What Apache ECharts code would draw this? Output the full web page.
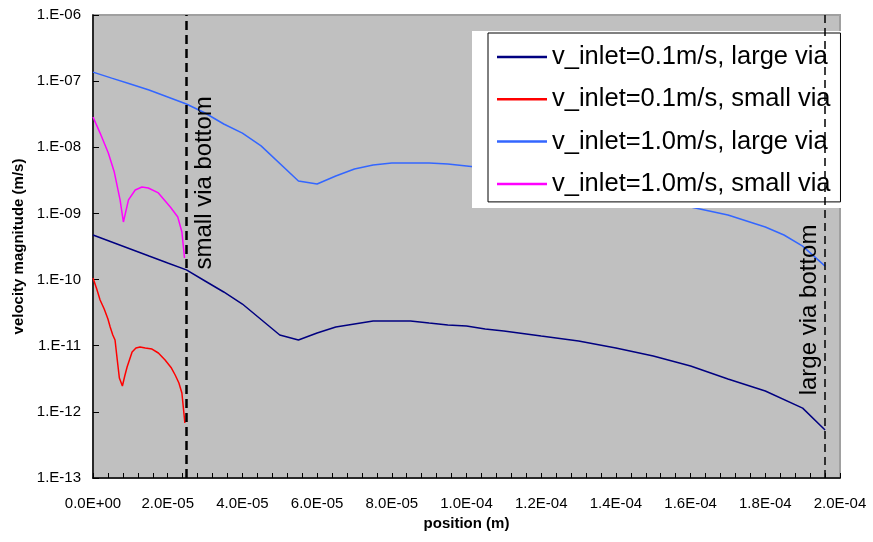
<!DOCTYPE html>
<html>
<head>
<meta charset="utf-8">
<title>Velocity magnitude along via</title>
<script src="https://cdn.jsdelivr.net/npm/echarts@6/dist/echarts.min.js"></script>
<style>
  html, body { margin: 0; padding: 0; background: #ffffff; }
  #chart { width: 873px; height: 542px; }
</style>
</head>
<body>
<div id="chart"></div>
<script>
// Positions are given in micrometres and converted to metres when plotted.
// v_inlet = 0.1 m/s, large via
const largeVia01Pos = [0, 5, 10, 15, 20, 25, 30, 35, 40, 50, 55, 60, 65, 70, 75, 80, 85, 90, 95, 100, 105, 110, 120, 130, 140, 150, 160, 170, 180, 190, 196];
const largeVia01Vel = [4.72e-10, 3.70e-10, 2.90e-10, 2.27e-10, 1.78e-10, 1.40e-10, 9.51e-11, 6.49e-11, 4.27e-11, 1.45e-11, 1.22e-11, 1.56e-11, 1.92e-11, 2.13e-11, 2.36e-11, 2.36e-11, 2.36e-11, 2.20e-11, 2.06e-11, 1.99e-11, 1.79e-11, 1.67e-11, 1.40e-11, 1.18e-11, 9.23e-12, 6.98e-12, 4.93e-12, 3.14e-12, 2.07e-12, 1.14e-12, 5.31e-13];

// v_inlet = 0.1 m/s, small via
const smallVia01Pos = [0, 1, 1.9, 3, 4, 4.6, 5.3, 5.9, 6.5, 7.06, 7.87, 8.5, 9.13, 10.47, 11.5, 12.6, 14, 15.8, 17.5, 19.3, 21, 22, 23, 23.8, 24.6];
const smallVia01Vel = [1.06e-10, 7.20e-11, 4.91e-11, 3.59e-11, 2.54e-11, 1.92e-11, 1.45e-11, 1.22e-11, 6.08e-12, 3.25e-12, 2.46e-12, 3.48e-12, 4.77e-12, 8.04e-12, 9.23e-12, 9.55e-12, 9.23e-12, 8.91e-12, 7.76e-12, 6.08e-12, 4.60e-12, 3.61e-12, 2.73e-12, 1.93e-12, 6.78e-13];

// v_inlet = 1.0 m/s, large via
const largeVia10Pos = [0, 5, 10, 15, 20, 25, 30, 35, 40, 45, 55, 60, 65, 70, 75, 80, 85, 90, 95, 100, 110, 120, 130, 140, 150, 160, 170, 180, 185, 190, 196];
const largeVia10Vel = [1.37e-7, 1.11e-7, 9.05e-8, 7.34e-8, 5.75e-8, 4.51e-8, 3.30e-8, 2.25e-8, 1.64e-8, 1.05e-8, 3.09e-9, 2.78e-9, 3.68e-9, 4.70e-9, 5.40e-9, 5.79e-9, 5.79e-9, 5.79e-9, 5.58e-9, 5.21e-9, 4.54e-9, 3.68e-9, 2.98e-9, 2.26e-9, 1.71e-9, 1.25e-9, 9.46e-10, 6.24e-10, 4.72e-10, 3.21e-10, 1.60e-10];

// v_inlet = 1.0 m/s, small via
const smallVia10Pos = [0, 1.9, 4.1, 5.7, 7.25, 8.14, 9.5, 11.3, 13.1, 14.8, 17.5, 20.7, 22.7, 23.8, 24.5];
const smallVia10Vel = [2.87e-8, 1.64e-8, 8.19e-9, 4.22e-9, 1.60e-9, 7.42e-10, 1.60e-9, 2.26e-9, 2.51e-9, 2.42e-9, 2.04e-9, 1.25e-9, 8.83e-10, 5.24e-10, 2.12e-10];

const seriesNames = [
  'v_inlet=0.1m/s, large via',
  'v_inlet=0.1m/s, small via',
  'v_inlet=1.0m/s, large via',
  'v_inlet=1.0m/s, small via'
];
const seriesColors = ['#000080', '#ff0000', '#3366ff', '#ff00ff'];

// Via bottom markers (position in metres)
const smallViaBottom = 25e-6;
const largeViaBottom = 196e-6;

const Y_MIN = 1e-13;
const Y_MAX = 1e-6;

const FONT = "'Liberation Sans', Arial, sans-serif";

function toPairs(posUm, vel) {
  return posUm.map((p, i) => [p * 1e-6, vel[i]]);
}

function expLabel(mantissa, n) {
  return mantissa + 'E' + (n < 0 ? '-' : '+') + String(Math.abs(n)).padStart(2, '0');
}

function fmtX(v) {
  const parts = Number(v).toExponential(1).split('e');
  return expLabel(parts[0], parseInt(parts[1], 10));
}

function fmtY(v) {
  return expLabel('1.', Math.round(Math.log10(v)));
}

const chart = echarts.init(document.getElementById('chart'), null, { renderer: 'canvas' });

const lineSeries = [
  [largeVia01Pos, largeVia01Vel],
  [smallVia01Pos, smallVia01Vel],
  [largeVia10Pos, largeVia10Vel],
  [smallVia10Pos, smallVia10Vel]
].map((pair, i) => ({
  name: seriesNames[i],
  type: 'line',
  data: toPairs(pair[0], pair[1]),
  symbol: 'none',
  showSymbol: false,
  z: 2,
  lineStyle: { color: seriesColors[i], width: 1.5 },
  itemStyle: { color: seriesColors[i] },
  emphasis: { disabled: true }
}));

// Via-bottom dashed lines and their labels ride on the first series
lineSeries[0].markLine = {
  silent: true,
  symbol: ['none', 'none'],
  label: { show: false },
  emphasis: { disabled: true },
  data: [
    [
      { coord: [smallViaBottom, Y_MIN], lineStyle: { color: '#000', width: 2.5, type: [9, 5] } },
      { coord: [smallViaBottom, Y_MAX] }
    ],
    [
      { coord: [largeViaBottom, Y_MIN], lineStyle: { color: '#000', width: 1.5, type: [8, 5] } },
      { coord: [largeViaBottom, Y_MAX] }
    ]
  ]
};
lineSeries[0].markPoint = {
  silent: true,
  symbol: 'circle',
  symbolSize: 1,
  itemStyle: { color: 'rgba(0,0,0,0)' },
  label: {
    show: true,
    position: 'inside',
    formatter: '{b}',
    rotate: 90,
    color: '#000',
    fontSize: 24,
    fontFamily: FONT
  },
  data: [
    { name: 'small via bottom', coord: [smallViaBottom, 2.9e-9], label: { offset: [0, 18] } },
    { name: 'large via bottom', coord: [largeViaBottom, 3.47e-11], label: { offset: [0, -16] } }
  ]
};

chart.setOption({
  animation: false,
  backgroundColor: '#ffffff',
  textStyle: { fontFamily: FONT },
  grid: {
    left: 93, right: 33, top: 15, bottom: 64,
    show: true,
    backgroundColor: '#c0c0c0',
    borderColor: '#a0a0a0',
    borderWidth: 2
  },
  legend: {
    data: seriesNames,
    orient: 'vertical',
    left: 488,
    top: 33,
    z: 4,
    padding: [11, 10, 5, 9],
    itemGap: 16.3,
    itemWidth: 50,
    itemHeight: 2.5,
    icon: 'rect',
    backgroundColor: '#ffffff',
    borderColor: '#000000',
    borderWidth: 1,
    borderRadius: 0,
    selectedMode: false,
    textStyle: { fontSize: 25.5, color: '#000', fontFamily: FONT }
  },
  graphic: [
    {
      type: 'rect',
      left: 472, top: 31,
      shape: { width: 370, height: 177 },
      style: { fill: '#ffffff' },
      z: 3,
      silent: true
    }
  ],
  xAxis: {
    type: 'value',
    min: 0,
    max: 2e-4,
    interval: 2e-5,
    name: 'position (m)',
    nameLocation: 'middle',
    nameGap: 36,
    nameTextStyle: { fontSize: 15, fontWeight: 'bold', color: '#000', fontFamily: FONT },
    axisLine: { show: true, lineStyle: { color: '#000', width: 1.5 } },
    axisTick: { show: true, inside: true, length: 5, lineStyle: { color: '#000', width: 1 } },
    minorTick: { show: true, splitNumber: 5, length: 5, lineStyle: { color: '#000', width: 1 } },
    splitLine: { show: false },
    axisLabel: { formatter: fmtX, fontSize: 15, color: '#000', margin: 18, fontFamily: FONT, showMinLabel: true, showMaxLabel: true }
  },
  yAxis: {
    type: 'log',
    logBase: 10,
    min: Y_MIN,
    max: Y_MAX,
    interval: 1,
    splitNumber: 7,
    name: 'velocity magnitude (m/s)',
    nameLocation: 'middle',
    nameGap: 63,
    nameTextStyle: { fontSize: 15, fontWeight: 'bold', color: '#000', fontFamily: FONT },
    axisLine: { show: true, lineStyle: { color: '#000', width: 1.5 } },
    axisTick: { show: true, inside: true, length: 6, lineStyle: { color: '#000', width: 1 } },
    minorTick: { show: false },
    splitLine: { show: false },
    axisLabel: { formatter: fmtY, fontSize: 15, color: '#000', margin: 12, fontFamily: FONT, showMinLabel: true, showMaxLabel: true }
  },
  series: lineSeries
});
</script>
</body>
</html>
